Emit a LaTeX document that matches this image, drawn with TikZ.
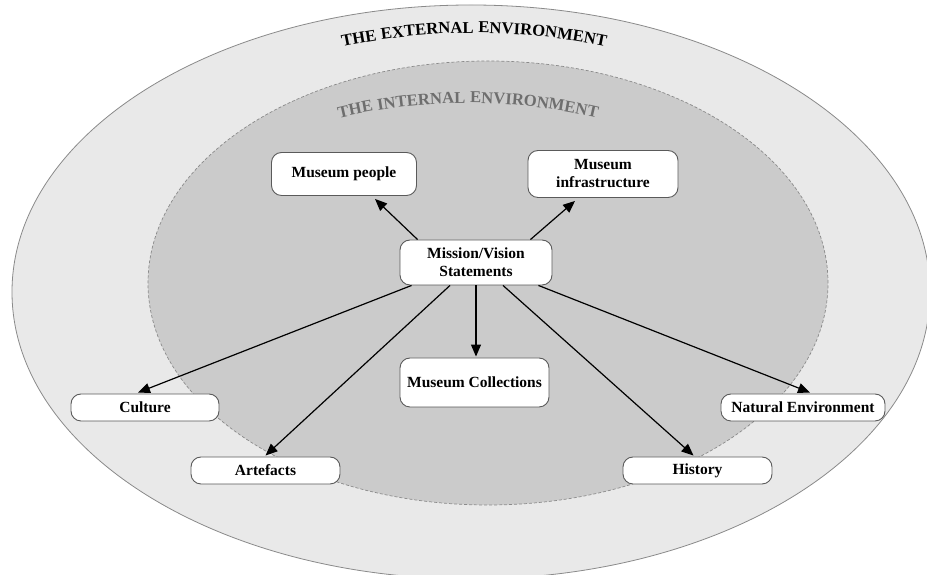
\documentclass[tikz,border=0pt]{standalone}
\usepackage{fontspec}
\setmainfont{Liberation Serif}
\newfontfamily\titlefont{Liberation Serif}[LetterSpace=3]
\usetikzlibrary{arrows.meta,decorations.text}

\definecolor{outerfill}{HTML}{E9E9E9}
\definecolor{innerfill}{HTML}{CBCBCB}
\definecolor{rimgray}{HTML}{8A8A8A}
\definecolor{boxrim}{HTML}{5A5A5A}
\definecolor{labelgray}{HTML}{6E6E6E}

\tikzset{
  box/.style={draw=boxrim, line width=0.9pt, fill=white, rounded corners=10pt,
    font=\fontsize{15.5}{18}\selectfont\bfseries, align=center,
    inner sep=0pt},
  link/.style={line width=1.2pt, -{Triangle[length=12pt,width=10pt]}},
}

\begin{document}
\begin{tikzpicture}[x=1pt,y=1pt]
  \useasboundingbox (0,0) rectangle (927,575);

  % environments
  \draw[rimgray, fill=outerfill, line width=0.8pt] (471,283) ellipse [x radius=459pt, y radius=287pt];
  \draw[rimgray, fill=innerfill, line width=0.7pt, dash pattern=on 3pt off 2pt] (488,292) ellipse [x radius=340pt, y radius=222pt];

  % curved titles
  \path[decorate, decoration={text along path, text align=center,
      text={|\titlefont\fontsize{16.6}{17}\selectfont\bfseries|THE EXTERNAL ENVIRONMENT}}]
    (474,-106) ++(114:648pt) arc[start angle=114, end angle=66, radius=648pt];
  \path[decorate, decoration={text along path, text align=center,
      text={|\titlefont\fontsize{16.6}{17}\selectfont\bfseries\color{labelgray}|THE INTERNAL ENVIRONMENT}}]
    (468,-88) ++(115:560pt) arc[start angle=115, end angle=65, radius=560pt];

  % boxes
  \node[box, minimum width=145pt, minimum height=43pt] (mp) at (344,401) {Museum people};
  \node[box, minimum width=150pt, minimum height=47pt] (mi) at (603,401) {Museum\\infrastructure};
  \node[box, minimum width=152pt, minimum height=45pt] (mv) at (476,312.5) {Mission/Vision\\Statements};
  \node[box, minimum width=149pt, minimum height=49pt] (mc) at (474.5,192.5) {Museum Collections};
  \node[box, minimum width=148pt, minimum height=27pt] (cul) at (145,167.5) {Culture};
  \node[box, minimum width=164pt, minimum height=27pt] (nat) at (803,167.5) {Natural Environment};
  \node[box, minimum width=149pt, minimum height=27pt] (art) at (265.5,104.5) {Artefacts};
  \node[box, minimum width=149pt, minimum height=27pt] (his) at (697.5,104.5) {History};

  % links from the statements
  \draw[link] ([xshift=18pt]mv.north west) -- ([xshift=31pt,yshift=-3pt]mp.south);
  \draw[link] ([xshift=-22pt]mv.north east) -- ([xshift=-28pt,yshift=-3pt]mi.south);
  \draw[link] ([xshift=12pt]mv.south west) -- ([xshift=-7pt,yshift=1pt]cul.north);
  \draw[link] ([xshift=-26pt]mv.south) -- ([yshift=1pt]art.north);
  \draw[link] (mv.south) -- ([xshift=1.5pt,yshift=1pt]mc.north);
  \draw[link] ([xshift=27pt]mv.south) -- ([xshift=-4pt,yshift=1pt]his.north);
  \draw[link] ([xshift=-14pt]mv.south east) -- ([xshift=7pt,yshift=1pt]nat.north);
\end{tikzpicture}
\end{document}
